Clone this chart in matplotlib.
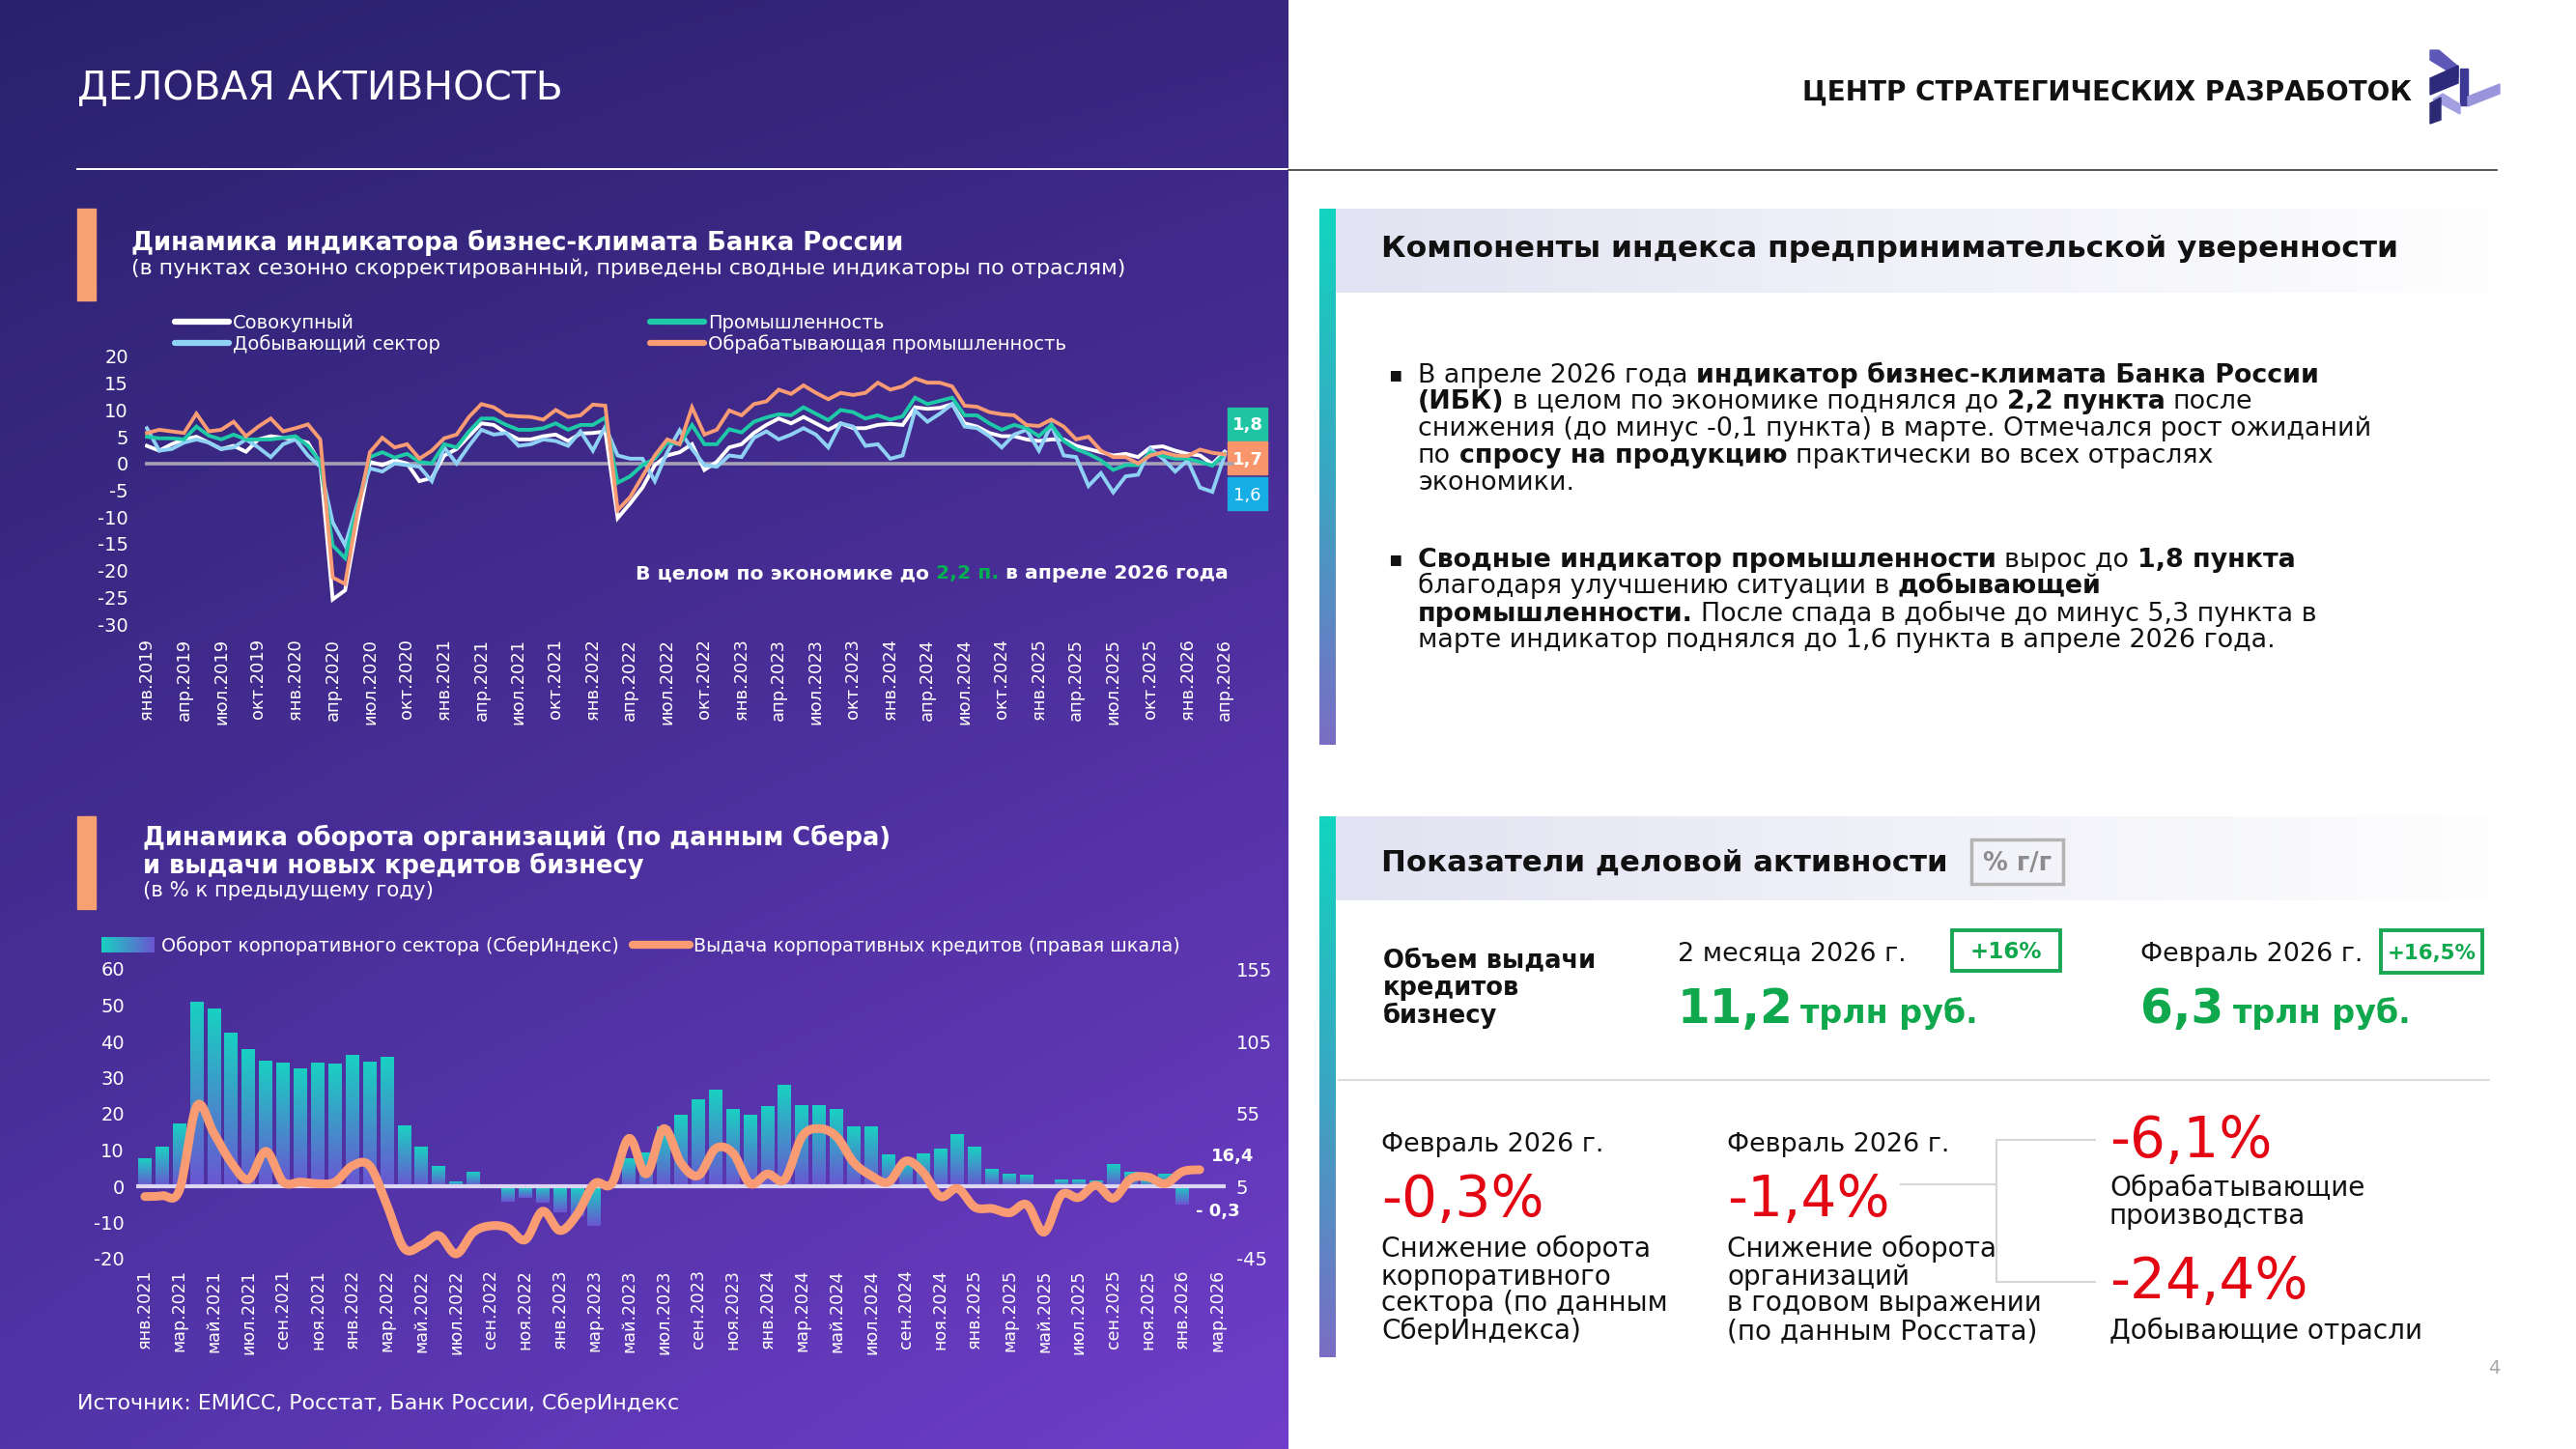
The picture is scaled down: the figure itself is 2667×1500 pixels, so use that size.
import numpy as np
import matplotlib
matplotlib.use('Agg')
import matplotlib.pyplot as plt
from matplotlib.patches import Rectangle, Polygon
from matplotlib.colors import LinearSegmentedColormap, to_rgb
from matplotlib.lines import Line2D

FONT = ['DejaVu Sans']
plt.rcParams['font.family'] = FONT
plt.rcParams['axes.unicode_minus'] = False

# ---------------- DATA ----------------
# Business climate indicator (Bank of Russia), monthly Jan 2019 .. Apr 2026
ibk_total = [3.3, 2.4, 3.6, 4.5, 5.0, 3.9, 2.7, 3.3, 2.2, 4.5,
             5.1, 4.8, 4.5, 3.9, 0.0, -25.4, -23.7, -11.0, 0.3, -0.3,
             0.6, 0.0, -3.3, -2.7, 1.5, 2.7, 5.1, 7.5, 7.2, 5.7,
             4.5, 4.5, 5.1, 5.4, 4.2, 5.6, 5.7, 6.0, -10.2, -7.5,
             -4.5, -0.3, 1.5, 2.1, 3.6, -1.2, 0.3, 3.0, 3.6, 5.7,
             7.2, 8.4, 7.5, 8.7, 7.5, 6.3, 7.5, 6.6, 6.6, 7.2,
             7.4, 7.2, 10.5, 10.2, 10.4, 11.1, 7.5, 6.9, 5.7, 5.1,
             5.1, 4.5, 4.2, 4.5, 4.5, 3.3, 2.7, 2.1, 1.5, 1.8,
             1.2, 3.0, 3.2, 2.4, 1.8, 1.5, -0.1, 2.2]
ibk_industry = [5.0, 4.7, 4.7, 4.5, 6.9, 5.2, 4.5, 5.4, 4.5, 4.5,
                4.5, 4.8, 5.1, 3.3, 0.3, -15.3, -17.7, -8.0, 1.2, 2.1,
                1.1, 1.8, 0.3, 0.0, 3.6, 3.0, 6.0, 8.4, 8.4, 7.2,
                6.3, 6.3, 6.6, 7.5, 6.3, 7.2, 7.2, 8.6, -3.6, -2.4,
                -0.3, 0.9, 3.9, 3.6, 7.2, 3.6, 3.6, 6.4, 5.8, 7.8,
                8.6, 9.2, 9.0, 10.5, 9.3, 8.1, 10.0, 9.6, 8.4, 9.0,
                8.2, 8.8, 12.3, 11.1, 11.7, 12.3, 9.0, 9.0, 7.5, 6.3,
                7.2, 6.6, 5.1, 7.2, 4.2, 2.7, 1.8, 0.6, -1.2, -0.3,
                -0.3, 2.1, 1.4, 0.9, 0.9, 0.3, -0.4, 1.8]
ibk_mining = [6.6, 2.4, 2.7, 3.9, 4.5, 3.9, 2.7, 3.0, 4.5, 3.0,
              1.2, 3.6, 4.5, 1.5, -0.6, -11.0, -15.3, -7.5, -0.9, -1.5,
              0.0, -0.3, -0.6, -3.3, 3.0, 0.0, 3.3, 6.3, 5.4, 5.7,
              3.3, 3.6, 4.5, 4.2, 3.3, 6.0, 2.4, 6.9, 1.5, 0.9,
              0.9, -3.3, 2.1, 6.2, 2.7, -0.3, -0.6, 1.5, 1.2, 4.8,
              6.0, 4.5, 5.4, 6.6, 5.4, 3.0, 7.5, 6.9, 3.3, 3.6,
              0.9, 1.5, 9.9, 7.8, 9.3, 11.1, 6.9, 6.6, 5.1, 3.0,
              5.4, 6.3, 2.4, 7.2, 1.5, 1.2, -4.2, -1.8, -5.4, -2.4,
              -2.1, 2.7, 0.9, -1.5, 0.6, -4.5, -5.3, 1.6]
ibk_manuf = [5.7, 6.3, 6.0, 5.7, 9.3, 6.0, 6.3, 7.8, 5.1, 6.9,
             8.4, 6.0, 6.6, 7.3, 4.5, -21.3, -22.5, -9.0, 2.1, 4.8,
             3.0, 3.6, 0.9, 2.4, 4.7, 5.4, 8.7, 11.1, 10.5, 9.0,
             8.8, 8.7, 8.2, 10.0, 8.7, 9.0, 11.0, 10.8, -8.7, -6.3,
             -2.4, 1.5, 4.5, 3.6, 10.5, 5.4, 6.3, 9.9, 9.0, 11.1,
             11.6, 13.8, 13.0, 14.6, 13.2, 12.0, 13.2, 12.8, 13.2, 15.1,
             13.8, 14.4, 15.9, 15.1, 15.1, 14.4, 10.8, 10.6, 9.6, 9.2,
             9.0, 7.2, 7.0, 8.2, 6.9, 4.5, 5.0, 2.4, 1.2, 1.2,
             0.0, 1.5, 2.1, 1.5, 1.4, 2.6, 2.0, 1.7]
top_series_names = ['Совокупный', 'Добывающий сектор', 'Промышленность',
                    'Обрабатывающая промышленность']
top_months = ['янв', 'апр', 'июл', 'окт']
top_tick_labels = [f'{m}.{y}' for y in range(2019, 2027) for m in top_months][:30]
top_yticks = [-30, -25, -20, -15, -10, -5, 0, 5, 10, 15, 20]

# Turnover (SberIndex, % y/y, left) and corporate credit issuance (% y/y, right), Jan 2021 .. Mar 2026
nan = float('nan')
turnover = [7.7, 10.9, 17.2, 50.9, 49.0, 42.3, 37.7, 34.5, 34.0, 32.4,
            34.0, 33.8, 36.1, 34.2, 35.6, 16.8, 10.9, 5.5, 1.3, 3.9,
            -0.6, -4.2, -3.1, -4.6, -7.1, -8.2, -10.9, -0.6, 7.6, 9.2,
            16.4, 19.7, 23.8, 26.5, 21.3, 19.7, 21.9, 27.8, 22.4, 22.2,
            21.3, 16.5, 16.5, 8.8, 7.2, 9.0, 10.3, 14.4, 10.8, 4.7,
            3.4, 3.0, -0.6, 1.8, 1.8, 1.5, 6.1, 4.0, 1.8, 3.4,
            -5.1, -0.3, nan]
credits = [-2.1, -1.5, 2.3, 60.4, 41.4, 21.3, 9.7, 29.1, 7.9, 7.9,
           6.8, 7.9, 19.1, 19.1, -8.0, -37.9, -35.7, -29.0, -41.7, -26.7,
           -22.3, -23.8, -31.9, -12.2, -25.6, -14.4, 6.8, 6.8, 38.1, 13.5,
           44.8, 21.0, 12.4, 31.0, 28.0, 6.8, 13.5, 9.7, 39.2, 44.8,
           39.2, 21.3, 12.4, 7.9, 22.4, 14.6, -2.1, 3.4, -9.5, -10.4,
           -13.3, -7.7, -26.7, -1.0, -2.8, 5.7, -3.3, 10.1, 11.3, 6.8,
           15.1, 16.4, nan]
bot_series_names = ['Оборот корпоративного сектора (СберИндекс)',
                    'Выдача корпоративных кредитов (правая шкала)']
bot_months = ['янв', 'мар', 'май', 'июл', 'сен', 'ноя']
bot_tick_labels = [f'{m}.{y}' for y in range(2021, 2027) for m in bot_months][:32]
bot_left_ticks = [-20, -10, 0, 10, 20, 30, 40, 50, 60]
bot_right_ticks = [-45, 5, 55, 105, 155]

# ---------------- FIGURE ----------------
W, H = 2667, 1500
fig = plt.figure(figsize=(W / 100, H / 100), dpi=100, facecolor='white')
R = fig.canvas.get_renderer()

bg = fig.add_axes([0, 0, 1, 1])
bg.set_xlim(0, W)
bg.set_ylim(H, 0)
bg.axis('off')


def hexrgb(c):
    return np.array(to_rgb(c))


TL, TR, BL, BR = (np.array(c) / 255 for c in [(42, 33, 108), (56, 38, 128), (82, 52, 168), (112, 62, 202)])
gy, gx = np.mgrid[0:1:200j, 0:1:200j]
img = (TL[None, None] * ((1 - gx) * (1 - gy))[..., None] + TR[None, None] * (gx * (1 - gy))[..., None]
       + BL[None, None] * ((1 - gx) * gy)[..., None] + BR[None, None] * (gx * gy)[..., None])
bg.imshow(img, extent=[0, 1334, H, 0], aspect='auto', interpolation='bilinear', zorder=0)


def tw(s, size, weight='normal'):
    t = bg.text(0, 0, '|' + s + '|', fontsize=size, fontweight=weight)
    w1 = t.get_window_extent(R).width
    t.set_text('||')
    w2 = t.get_window_extent(R).width
    t.remove()
    return w1 - w2


def fit(s, target, weight='normal'):
    return 20.0 * target / tw(s, 20, weight)


def T(x, cy, s, size, weight='normal', color='white', ha='left', **kw):
    base = cy + 0.36 * size * 100 / 72
    return bg.text(x, base, s, fontsize=size, fontweight=weight, color=color,
                   ha=ha, va='baseline', zorder=5, **kw)


def rich(x, cy, segs, size, align='left'):
    ws = [tw(s, size, wt) for s, wt, c in segs]
    if align == 'right':
        x -= sum(ws)
    for (s, wt, c), w in zip(segs, ws):
        lead = len(s) - len(s.lstrip(' '))
        off = tw(' ' * lead, size, wt) if lead else 0
        if s.strip():
            T(x + off, cy, s.strip(), size, wt, c)
        x += w


def px_axes(x0, y0, x1, y1):
    a = fig.add_axes([x0 / W, 1 - y1 / H, (x1 - x0) / W, (y1 - y0) / H])
    a.set_facecolor('none')
    for s in a.spines.values():
        s.set_visible(False)
    return a


PT = 72 / 100  # px -> points
TICK_FS = 14

# ---------------- HEADER ----------------
T(80, 88, 'ДЕЛОВАЯ АКТИВНОСТЬ', fit('ДЕЛОВАЯ АКТИВНОСТЬ', 503), 'normal', 'white')
bg.plot([80, 1334], [175, 175], color='white', lw=1.4, zorder=3)
bg.plot([1334, 2585], [176, 176], color='#3a3a3a', lw=1.2, zorder=3)
T(2497, 94, 'ЦЕНТР СТРАТЕГИЧЕСКИХ РАЗРАБОТОК',
  fit('ЦЕНТР СТРАТЕГИЧЕСКИХ РАЗРАБОТОК', 631, 'bold'), 'bold', '#111111', ha='right')
logo = [([(2516, 52), (2525, 52), (2545, 69), (2545, 80), (2516, 62)], '#5d57b8'),
        ([(2516, 81), (2545, 68), (2545, 86), (2516, 98)], '#2c2a7a'),
        ([(2547, 71), (2555, 71), (2555, 109), (2547, 109)], '#3b3994'),
        ([(2555, 100), (2588, 87), (2588, 97), (2555, 110)], '#9995dd'),
        ([(2519, 103), (2529, 97), (2547, 108), (2547, 118)], '#a29fe2'),
        ([(2516, 107), (2527, 101), (2527, 124), (2516, 128)], '#2b2973')]
for pts, c in logo:
    bg.add_patch(Polygon(pts, closed=True, color=c, zorder=4))

# ---------------- TOP-LEFT CHART ----------------
ORANGE_BAR = '#f7a072'
bg.add_patch(Rectangle((80, 216), 19, 95, color=ORANGE_BAR, zorder=3))
T(136, 250, 'Динамика индикатора бизнес-климата Банка России',
  fit('Динамика индикатора бизнес-климата Банка России', 801, 'bold'), 'bold')
st1 = '(в пунктах сезонно скорректированный, приведены сводные индикаторы по отраслям)'
T(136, 276, st1, fit(st1, 1026))

C_WHITE, C_LB, C_TEAL, C_OR = '#ffffff', '#8fd0f5', '#1ec9a8', '#f99b73'
top_cols = [C_WHITE, C_LB, C_TEAL, C_OR]
leg_fs = fit(top_series_names[3], 369)
leg_items = [(181, 333, 0), (181, 355, 1), (673, 333, 2), (673, 355, 3)]
for x, y, k in leg_items:
    bg.add_line(Line2D([x, x + 56], [y, y], color=top_cols[k], lw=4.5, solid_capstyle='round', zorder=4))
    T(x + 60, y, top_series_names[k], leg_fs)

ax1 = px_axes(150, 369, 1277, 646)
xt = np.arange(len(ibk_total))
for ser, c in zip([ibk_total, ibk_mining, ibk_industry, ibk_manuf], top_cols):
    ax1.plot(xt, ser, color=c, lw=2.8, solid_joinstyle='miter', zorder=3)
ax1.axhline(0, color='#a6a2b6', lw=2.6, zorder=2)
ax1.set_ylim(-30, 20)
ax1.set_xlim(-0.16, 87.7)
ax1.set_yticks(top_yticks)
ax1.set_yticklabels([str(v) for v in top_yticks])
ax1.set_xticks(np.arange(0, 88, 3))
xl_fs = fit('янв.2019', 84)
ax1.set_xticklabels(top_tick_labels, rotation=90, va='top', ha='center')
ax1.tick_params(axis='y', length=0, pad=17 * PT, labelcolor='white', labelsize=TICK_FS)
ax1.tick_params(axis='x', length=0, pad=15 * PT, labelcolor='white', labelsize=xl_fs)

# value boxes
box_specs = [(ibk_industry[-1], '#1fc4a3', 439, 'bold'),
             (ibk_manuf[-1], '#f8956b', 474, 'bold'),
             (ibk_mining[-1], '#17aee6', 511, 'normal')]
for v, c, cy, wt in box_specs:
    bg.add_patch(Rectangle((1271, cy - 17), 41, 34, color=c, zorder=4))
    T(1291.5, cy, f'{v:.1f}'.replace('.', ','), 13, wt, 'white', ha='center')

note_fs = fit('В целом по экономике до 2,2 п. в апреле 2026 года', 614, 'bold')
rich(1272, 592, [('В целом по экономике до ', 'bold', 'white'), ('2,2 п.', 'bold', '#00b050'),
                 (' в апреле 2026 года', 'bold', 'white')], note_fs, align='right')

# ---------------- BOTTOM-LEFT CHART ----------------
bg.add_patch(Rectangle((80, 845), 19, 96, color=ORANGE_BAR, zorder=3))
t2_fs = fit('Динамика оборота организаций (по данным Сбера)', 776, 'bold')
T(148, 866, 'Динамика оборота организаций (по данным Сбера)', t2_fs, 'bold')
T(148, 895, 'и выдачи новых кредитов бизнесу', t2_fs, 'bold')
T(148, 920, '(в % к предыдущему году)', fit('(в % к предыдущему году)', 301))

bar_cmap = LinearSegmentedColormap.from_list('bars', ['#6a56d2', '#19d0c2'])
lg = fig.add_axes([105 / W, 1 - 986 / H, 55 / W, 16 / H])
lg.imshow(np.linspace(1, 0, 50).reshape(1, -1), cmap=bar_cmap, aspect='auto')
lg.axis('off')
bleg_fs = fit(bot_series_names[1], 502)
T(167, 978, bot_series_names[0], bleg_fs)
bg.add_line(Line2D([655, 714], [978, 978], color=C_OR, lw=6, solid_capstyle='round', zorder=4))
T(718, 978, bot_series_names[1], bleg_fs)

ax2 = px_axes(141, 1003, 1269, 1303)
xb = np.arange(len(turnover))
bars = ax2.bar(xb, np.nan_to_num(turnover), width=0.78, color='none', edgecolor='none')
grad = np.linspace(0, 1, 64).reshape(-1, 1)
for p, v in zip(bars.patches, turnover):
    if np.isnan(v) or v == 0:
        continue
    x0, w = p.get_x(), p.get_width()
    lo, hi = sorted([p.get_y(), p.get_y() + p.get_height()])
    ax2.imshow(grad, extent=[x0, x0 + w, lo, hi], origin='lower', cmap=bar_cmap,
               aspect='auto', interpolation='bilinear', zorder=2)
ax2.axhline(0, color='#dcd6f2', lw=3, zorder=3)
ax2.set_xlim(-0.5, len(turnover) - 0.5)
ax2.set_ylim(-20, 60)
ax2.set_yticks(bot_left_ticks)
ax2.set_yticklabels([str(v) for v in bot_left_ticks])
ax2.set_xticks(np.arange(0, len(turnover), 2))
ax2.set_xticklabels(bot_tick_labels, rotation=90, va='top', ha='center')
ax2.tick_params(axis='y', length=0, pad=12 * PT, labelcolor='white', labelsize=TICK_FS)
ax2.tick_params(axis='x', length=0, pad=11 * PT, labelcolor='white', labelsize=fit('янв.2021', 82))

ax2r = ax2.twinx()
ax2r.set_facecolor('none')
for s in ax2r.spines.values():
    s.set_visible(False)
ax2r.set_ylim(-45, 155)
ax2r.set_yticks(bot_right_ticks)
ax2r.set_yticklabels([str(v) for v in bot_right_ticks])
ax2r.tick_params(axis='y', length=0, pad=11 * PT, labelcolor='white', labelsize=TICK_FS)


def catmull(xs, ys, n=14):
    xs = np.asarray(xs, float)
    ys = np.asarray(ys, float)
    ox, oy = [], []
    m = len(xs)
    t = np.linspace(0, 1, n, endpoint=False)
    for i in range(m - 1):
        i0, i3 = max(i - 1, 0), min(i + 2, m - 1)
        for arr, out in ((xs, ox), (ys, oy)):
            p0, p1, p2, p3 = arr[i0], arr[i], arr[i + 1], arr[i3]
            out.extend(0.5 * (2 * p1 + (-p0 + p2) * t + (2 * p0 - 5 * p1 + 4 * p2 - p3) * t ** 2
                              + (-p0 + 3 * p1 - 3 * p2 + p3) * t ** 3))
    ox.append(xs[-1])
    oy.append(ys[-1])
    return np.array(ox), np.array(oy)


cr = np.array(credits)
valid = ~np.isnan(cr)
sx, sy = catmull(xb[valid], cr[valid])
ax2r.plot(sx, sy, color=C_OR, lw=6.5, solid_capstyle='round', zorder=4)
last_i = int(np.where(valid)[0][-1])
ax2r.annotate(f'{cr[last_i]:.1f}'.replace('.', ','), xy=(last_i, cr[last_i]),
              xytext=(34 * PT, 14 * PT), textcoords='offset points', ha='center', va='center',
              color='white', fontsize=13, fontweight='bold')
tv = np.array(turnover)
last_b = int(np.where(~np.isnan(tv))[0][-1])
ax2.annotate('- ' + f'{abs(tv[last_b]):.1f}'.replace('.', ','), xy=(last_b, tv[last_b]),
             xytext=(19 * PT, -25 * PT), textcoords='offset points', ha='center', va='center',
             color='white', fontsize=13, fontweight='bold')

T(80, 1451, 'Источник: ЕМИСС, Росстат, Банк России, СберИндекс',
  fit('Источник: ЕМИСС, Росстат, Банк России, СберИндекс', 622))

# ---------------- RIGHT PANELS ----------------
DARK = '#111111'
vgrad_cmap = LinearSegmentedColormap.from_list('vg', ['#12d4bf', '#3aa6c2', '#7a6ec4'])
hgrad = np.ones((1, 200, 4))
c0 = hexrgb('#e2e3f2')
for k in range(3):
    hgrad[0, :, k] = np.linspace(c0[k], 1.0, 200)
for top, bot in [(216, 771), (845, 1405)]:
    bg.imshow(np.linspace(0, 1, 100).reshape(-1, 1), extent=[1366, 1383, bot, top], cmap=vgrad_cmap,
              aspect='auto', interpolation='bilinear', zorder=2, origin='upper')
    bg.imshow(hgrad, extent=[1383, 2620, top + 87, top], aspect='auto', interpolation='bilinear', zorder=1)

T(1430, 255, 'Компоненты индекса предпринимательской уверенности',
  fit('Компоненты индекса предпринимательской уверенности', 1053, 'bold'), 'bold', DARK)

body_fs = fit('снижения (до минус -0,1 пункта) в марте. Отмечался рост ожиданий', 987)
B, N = 'bold', 'normal'
b1 = [[('В апреле 2026 года ', N), ('индикатор бизнес-климата Банка России', B)],
      [('(ИБК)', B), (' в целом по экономике поднялся до ', N), ('2,2 пункта', B), (' после', N)],
      [('снижения (до минус -0,1 пункта) в марте. Отмечался рост ожиданий', N)],
      [('по ', N), ('спросу на продукцию', B), (' практически во всех отраслях', N)],
      [('экономики.', N)]]
b2 = [[('Сводные индикатор промышленности', B), (' вырос до ', N), ('1,8 пункта', B)],
      [('благодаря улучшению ситуации в ', N), ('добывающей', B)],
      [('промышленности.', B), (' После спада в добыче до минус 5,3 пункта в', N)],
      [('марте индикатор поднялся до 1,6 пункта в апреле 2026 года.', N)]]
for lines, ys in [(b1, [386, 413, 441, 469, 497]), (b2, [577, 604, 633, 660])]:
    T(1437, ys[0], '▪', body_fs * 0.8, 'normal', DARK)
    for segs, y in zip(lines, ys):
        rich(1468, y, [(s, wt, DARK) for s, wt in segs], body_fs)

# panel 2
T(1430, 891, 'Показатели деловой активности', fit('Показатели деловой активности', 587, 'bold'), 'bold', DARK)
bg.add_patch(Rectangle((2041, 869), 95, 46, fill=False, edgecolor='#b4b4b4', lw=2.5, zorder=4))
T(2088.5, 892, '% г/г', fit('% г/г', 71, 'bold'), 'bold', '#8c8c8c', ha='center')

obj_fs = fit('Объем выдачи', 220, 'bold')
for s, y in zip(['Объем выдачи', 'кредитов', 'бизнесу'], [992, 1021, 1050]):
    T(1432, y, s, obj_fs, 'bold', DARK)

GREEN = '#10a84c'
RED = '#e30613'
per_fs = fit('Февраль 2026 г.', 230)
T(1737, 985, '2 месяца 2026 г.', per_fs, 'normal', DARK)
T(2216, 985, 'Февраль 2026 г.', per_fs, 'normal', DARK)
box_fs = fit('+16,5%', 92)
bg.add_patch(Rectangle((2021, 963), 112, 42, fill=False, edgecolor='#1aa653', lw=2.8, zorder=4))
T(2077, 984, '+16%', box_fs, 'bold', GREEN, ha='center')
bg.add_patch(Rectangle((2465, 963), 105, 44, fill=False, edgecolor='#1aa653', lw=2.8, zorder=4))
T(2517.5, 985, '+16,5%', box_fs * 0.93, 'bold', GREEN, ha='center')

big_fs = 35
tr_fs = 24
T(1737, 1041, '11,2', big_fs, 'bold', GREEN)
T(1737 + tw('11,2 ', big_fs, B) * 0.93, 1047, 'трлн руб.', tr_fs, 'bold', GREEN)
T(2216, 1041, '6,3', big_fs, 'bold', GREEN)
T(2216 + tw('6,3 ', big_fs, B) * 0.93, 1047, 'трлн руб.', tr_fs, 'bold', GREEN)

bg.plot([1386, 2577], [1118, 1118], color='#dcdcdc', lw=1.5, zorder=3)

T(1430, 1182, 'Февраль 2026 г.', per_fs, 'normal', DARK)
T(1788, 1182, 'Февраль 2026 г.', per_fs, 'normal', DARK)
red_fs = fit('-24,4%', 190) * 1.08
T(1430, 1238, '-0,3%', red_fs, 'normal', RED)
T(1788, 1238, '-1,4%', red_fs, 'normal', RED)
T(2184, 1177, '-6,1%', red_fs, 'normal', RED)
T(2184, 1323, '-24,4%', red_fs, 'normal', RED)

cap_fs = fit('в годовом выражении', 325)
for s, y in zip(['Снижение оборота', 'корпоративного', 'сектора (по данным', 'СберИндекса)'],
                [1291, 1320, 1347, 1376]):
    T(1430, y, s, cap_fs, 'normal', DARK)
for s, y in zip(['Снижение оборота', 'организаций', 'в годовом выражении', '(по данным Росстата)'],
                [1291, 1320, 1347, 1376]):
    T(1788, y, s, cap_fs, 'normal', DARK)
T(2184, 1228, 'Обрабатывающие', cap_fs, 'normal', DARK)
T(2184, 1257, 'производства', cap_fs, 'normal', DARK)
T(2184, 1376, 'Добывающие отрасли', cap_fs, 'normal', DARK)

LC = '#d6d6d6'
bg.plot([1968, 2067], [1226, 1226], color=LC, lw=1.5, zorder=3)
bg.plot([2067, 2067], [1180, 1327], color=LC, lw=1.5, zorder=3)
bg.plot([2067, 2169], [1180, 1180], color=LC, lw=1.5, zorder=3)
bg.plot([2067, 2169], [1327, 1327], color=LC, lw=1.5, zorder=3)

T(2582, 1415, '4', 14, 'normal', '#a8a8a8', ha='center')

fig.savefig('out.png', dpi=100, facecolor='white')
